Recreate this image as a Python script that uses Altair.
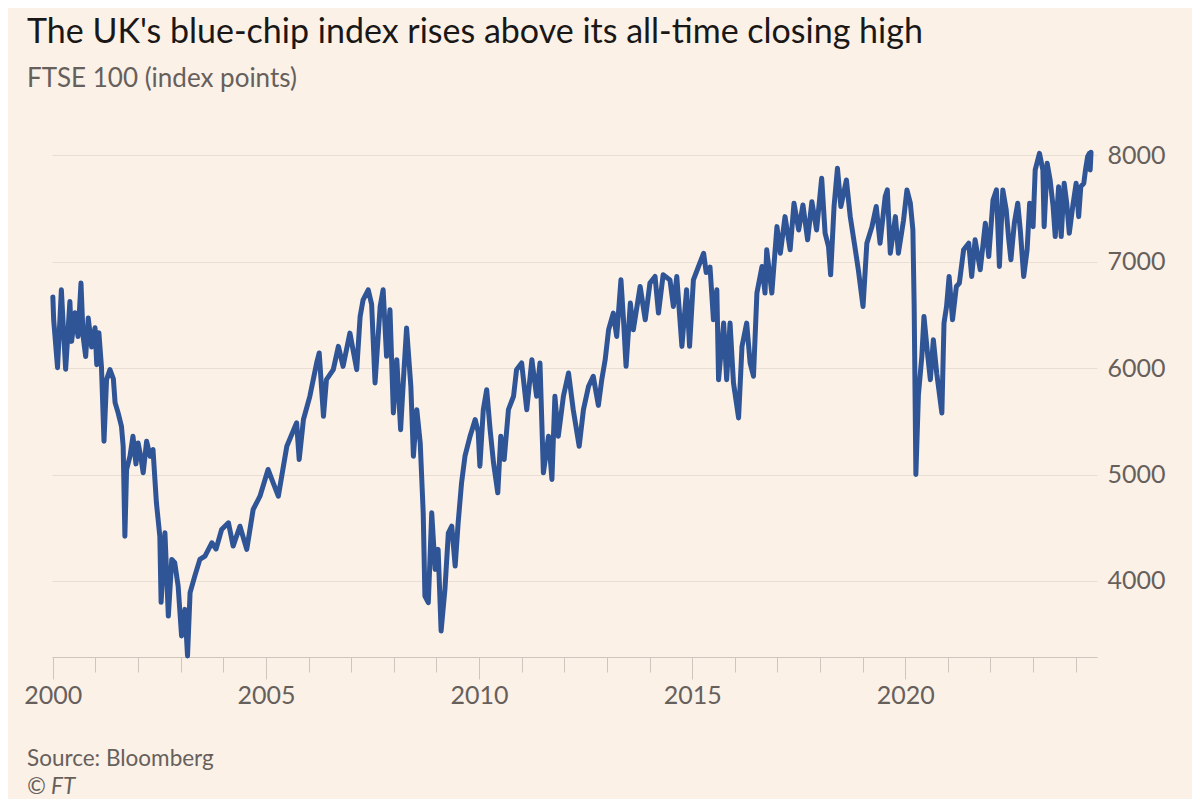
import altair as alt
import pandas as pd

# FTSE 100 closing level (decimal year, index points)
years = [
    2000.00, 2000.02, 2000.11, 2000.20, 2000.25, 2000.30, 2000.40, 2000.44, 2000.52, 2000.59,
    2000.66, 2000.71, 2000.77, 2000.83, 2000.91, 2000.99, 2001.03, 2001.08, 2001.14, 2001.20,
    2001.26, 2001.34, 2001.42, 2001.46, 2001.53, 2001.61, 2001.65, 2001.69, 2001.73, 2001.81,
    2001.88, 2001.95, 2002.00, 2002.07, 2002.12, 2002.20, 2002.28, 2002.35, 2002.43, 2002.51,
    2002.54, 2002.63, 2002.71, 2002.79, 2002.86, 2002.94, 2003.02, 2003.10, 2003.16, 2003.22,
    2003.33, 2003.45, 2003.57, 2003.73, 2003.83, 2003.96, 2004.12, 2004.23, 2004.39, 2004.55,
    2004.70, 2004.86, 2005.05, 2005.17, 2005.29, 2005.49, 2005.72, 2005.78, 2005.88, 2006.03,
    2006.19, 2006.25, 2006.35, 2006.42, 2006.58, 2006.70, 2006.81, 2006.97, 2007.13, 2007.21,
    2007.28, 2007.40, 2007.48, 2007.56, 2007.68, 2007.75, 2007.83, 2007.91, 2007.99, 2008.07,
    2008.16, 2008.24, 2008.30, 2008.40, 2008.46, 2008.54, 2008.62, 2008.69, 2008.73, 2008.81,
    2008.89, 2008.97, 2009.04, 2009.11, 2009.20, 2009.28, 2009.36, 2009.44, 2009.51, 2009.59,
    2009.67, 2009.79, 2009.91, 2009.98, 2010.02, 2010.10, 2010.18, 2010.26, 2010.34, 2010.44,
    2010.51, 2010.59, 2010.69, 2010.81, 2010.88, 2011.00, 2011.12, 2011.24, 2011.35, 2011.43,
    2011.51, 2011.63, 2011.71, 2011.78, 2011.86, 2011.98, 2012.10, 2012.21, 2012.35, 2012.45,
    2012.57, 2012.68, 2012.80, 2012.88, 2012.96, 2013.04, 2013.15, 2013.23, 2013.33, 2013.39,
    2013.45, 2013.55, 2013.62, 2013.78, 2013.90, 2014.01, 2014.13, 2014.21, 2014.32, 2014.48,
    2014.56, 2014.64, 2014.76, 2014.87, 2014.94, 2015.03, 2015.15, 2015.27, 2015.33, 2015.42,
    2015.50, 2015.58, 2015.62, 2015.74, 2015.81, 2015.89, 2015.97, 2016.09, 2016.17, 2016.28,
    2016.36, 2016.44, 2016.52, 2016.64, 2016.71, 2016.75, 2016.87, 2016.99, 2017.07, 2017.18,
    2017.30, 2017.39, 2017.50, 2017.60, 2017.71, 2017.81, 2017.92, 2018.04, 2018.12, 2018.20,
    2018.25, 2018.33, 2018.41, 2018.49, 2018.62, 2018.71, 2018.83, 2018.90, 2019.01, 2019.10,
    2019.22, 2019.32, 2019.41, 2019.53, 2019.58, 2019.65, 2019.77, 2019.84, 2019.96, 2020.04,
    2020.12, 2020.18, 2020.21, 2020.25, 2020.31, 2020.39, 2020.44, 2020.52, 2020.59, 2020.66,
    2020.74, 2020.86, 2020.91, 2020.97, 2021.03, 2021.11, 2021.20, 2021.27, 2021.37, 2021.49,
    2021.56, 2021.64, 2021.76, 2021.88, 2021.96, 2022.06, 2022.14, 2022.21, 2022.29, 2022.37,
    2022.43, 2022.48, 2022.56, 2022.64, 2022.70, 2022.78, 2022.86, 2022.92, 2023.00, 2023.05,
    2023.15, 2023.23, 2023.26, 2023.33, 2023.40, 2023.47, 2023.52, 2023.60, 2023.66, 2023.73,
    2023.79, 2023.85, 2023.93, 2024.01, 2024.07, 2024.12, 2024.19, 2024.23, 2024.28, 2024.32,
    2024.34, 2024.36,
]
values = [
    6670, 6450, 6005, 6737, 6350, 5990, 6627, 6252, 6521, 6298,
    6800, 6298, 6110, 6471, 6200, 6380, 6033, 6333, 6017, 5313,
    5892, 5986, 5900, 5676, 5582, 5453, 5266, 4420, 5047, 5172,
    5360, 5100, 5297, 5150, 5016, 5313, 5172, 5234, 4734, 4420,
    3798, 4452, 3669, 4201, 4170, 3951, 3482, 3732, 3294, 3889,
    4045, 4202, 4233, 4358, 4300, 4483, 4546, 4327, 4514, 4296,
    4671, 4796, 5047, 4922, 4796, 5266, 5486, 5141, 5517, 5735,
    6049, 6143, 5548, 5892, 5986, 6205, 6017, 6330, 5986, 6486,
    6643, 6737, 6600, 5861, 6580, 6737, 6111, 6549, 5579, 6080,
    5422, 5986, 6378, 5830, 5172, 5610, 5297, 4640, 3857, 3795,
    4640, 4108, 4296, 3529, 3920, 4452, 4514, 4139, 4546, 4922,
    5172, 5360, 5517, 5400, 5078, 5610, 5798, 5422, 5109, 4828,
    5360, 5141, 5610, 5736, 5986, 6049, 5610, 6080, 5736, 6049,
    5016, 5360, 4954, 5736, 5360, 5736, 5955, 5610, 5266, 5610,
    5830, 5924, 5650, 5892, 6080, 6361, 6518, 6298, 6831, 6455,
    6017, 6612, 6361, 6768, 6455, 6800, 6862, 6518, 6878, 6830,
    6580, 6862, 6205, 6737, 6205, 6831, 6956, 7081, 6900, 6950,
    6455, 6737, 5892, 6424, 5892, 6424, 5861, 5532, 6205, 6424,
    6050, 5924, 6706, 6956, 6706, 7113, 6706, 7331, 7081, 7425,
    7113, 7551, 7300, 7535, 7207, 7566, 7300, 7786, 7269, 7144,
    6878, 7520, 7880, 7520, 7770, 7425, 7113, 6925, 6580, 7175,
    7331, 7520, 7175, 7614, 7676, 7081, 7425, 7081, 7390, 7676,
    7551, 7300, 6580, 5000, 5750, 6111, 6486, 6150, 5892, 6267,
    5950, 5579, 6424, 6580, 6862, 6455, 6768, 6800, 7113, 7175,
    6862, 7207, 6925, 7363, 7050, 7582, 7676, 6956, 7676, 7488,
    7207, 7019, 7363, 7551, 7300, 6862, 7113, 7551, 7331, 7864,
    8020, 7864, 7331, 7927, 7770, 7520, 7238, 7707, 7238, 7739,
    7550, 7269, 7520, 7739, 7425, 7707, 7739, 7864, 7989, 8020,
    7864, 8030,
]

x_ticks = list(range(2000, 2025))
y_ticks = [4000, 5000, 6000, 7000, 8000]

title_text = "The UK's blue-chip index rises above its all-time closing high"
subtitle_text = "FTSE 100 (index points)"
source_text = "Source: Bloomberg"
credit_text = "\u00a9 FT"

df = pd.DataFrame({"year": years, "value": values})

FONT = "Lato"
BG = "#FCF1E7"
GREY = "#66605C"

W, H = 1045, 513

line = alt.Chart(df).mark_line(
    color="#2F5597", strokeWidth=5, strokeJoin="round", strokeCap="round"
).encode(
    x=alt.X(
        "year:Q",
        scale=alt.Scale(domain=[1999.98, 2024.5], nice=False, zero=False),
        axis=alt.Axis(
            values=x_ticks,
            labelExpr="datum.value % 5 == 0 ? datum.label : ''",
            format="d",
            title=None,
            grid=False,
            domainColor="#CEC6BE",
            tickColor="#CEC6BE",
            tickSize={"condition": {"test": "datum.value % 5 == 0", "value": 22}, "value": 15},
            labelFont=FONT,
            labelFontSize=25,
            labelColor=GREY,
            labelPadding=4,
            labelFlush=False,
        ),
    ),
    y=alt.Y(
        "value:Q",
        scale=alt.Scale(domain=[3284, 8108], nice=False, zero=False),
        axis=alt.Axis(
            orient="right",
            values=y_ticks,
            format="d",
            title=None,
            ticks=False,
            domain=False,
            gridColor="#E9DED4",
            gridWidth=1,
            labelFont=FONT,
            labelFontSize=25,
            labelColor=GREY,
            labelPadding=10,
            labelAlign="left",
            labelBaseline="middle",
        ),
    ),
)

source = alt.Chart(pd.DataFrame({"t": [source_text]})).mark_text(
    align="left", baseline="alphabetic", font=FONT, fontSize=22.5, color=GREY
).encode(x=alt.value(-25), y=alt.value(H + 109), text="t:N")

credit = alt.Chart(pd.DataFrame({"t": [credit_text]})).mark_text(
    align="left", baseline="alphabetic", font=FONT, fontSize=22.5, fontStyle="italic", color=GREY
).encode(x=alt.value(-25), y=alt.value(H + 137), text="t:N")

chart = alt.layer(line, source, credit).properties(
    width=W,
    height=H,
    padding={"left": 44, "top": 136, "right": 95, "bottom": 142},
    autosize=alt.AutoSizeParams(type="none"),
    title=alt.TitleParams(
        text=title_text,
        subtitle=subtitle_text,
        anchor="start",
        frame="group",
        dx=-25,
        offset=51,
        font=FONT,
        fontSize=34,
        fontWeight="normal",
        color="#1A1817",
        subtitleFont=FONT,
        subtitleFontSize=26,
        subtitleColor=GREY,
        subtitlePadding=16,
    ),
).configure(background=BG).configure_view(stroke=None)

chart.save("out.html", embed_options={"renderer": "svg", "actions": False})
